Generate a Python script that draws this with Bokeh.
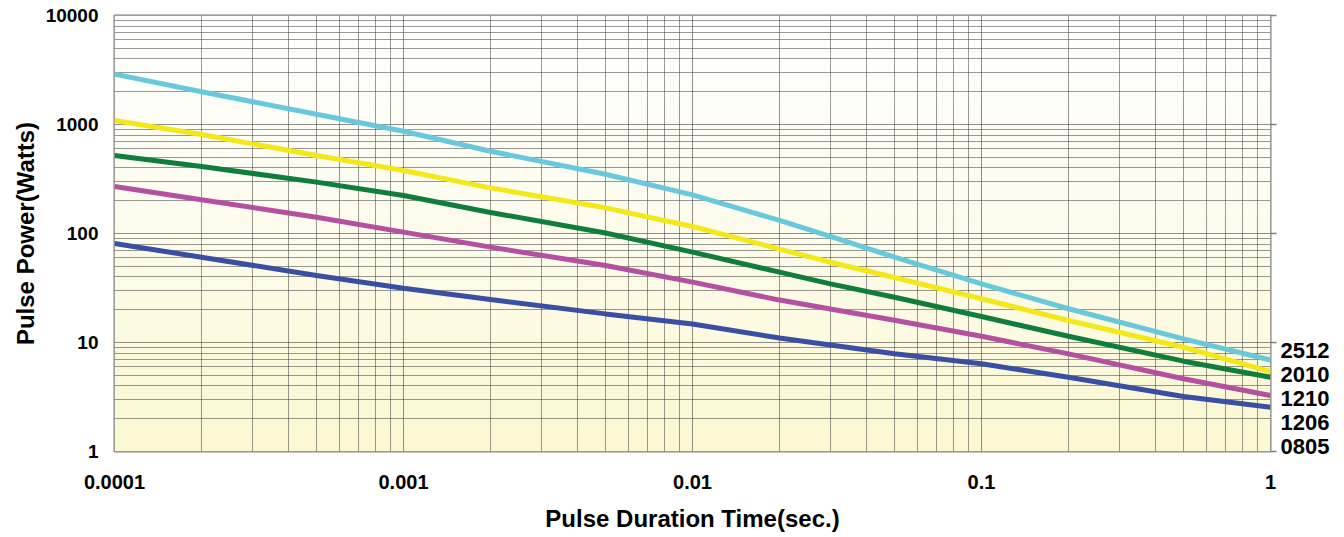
import numpy as np
from bokeh.plotting import figure
from bokeh.models import FixedTicker, LogAxis
from bokeh.embed import file_html
from bokeh.resources import INLINE

# ---- data ----
duration = [1e-4, 2e-4, 5e-4, 1e-3, 2e-3, 5e-3, 1e-2, 2e-2, 3e-2, 5e-2, 0.1, 0.2, 0.5, 1.0]
p2512 = [2900, 2000, 1240, 868, 569, 350, 226, 132, 94, 60.6, 34.5, 20.4, 10.8, 6.9]
p2010 = [1090, 809, 520, 378, 262, 172, 116, 72, 54.5, 39.5, 25.2, 15.9, 9.05, 5.4]
p1210 = [520, 412, 296, 223, 156, 101, 67.4, 44.2, 34.5, 26, 17.3, 11.4, 6.74, 4.8]
p1206 = [270, 204, 141, 103, 75, 50.9, 35.8, 24.5, 20.3, 16, 11.4, 7.87, 4.65, 3.26]
p0805 = [81, 60.6, 41.2, 31.5, 24.8, 18.3, 14.8, 11.0, 9.5, 7.9, 6.38, 4.8, 3.2, 2.55]

series_names = ["2512", "2010", "1210", "1206", "0805"]
series_values = [p2512, p2010, p1210, p1206, p0805]
series_colors = ["#68C8DC", "#F3E91A", "#0F7E3B", "#B54F9F", "#3A4EA3"]

x_ticks = [0.0001, 0.001, 0.01, 0.1, 1]
x_tick_labels = ["0.0001", "0.001", "0.01", "0.1", "1"]
y_ticks = [1, 10, 100, 1000, 10000]
y_tick_labels = ["1", "10", "100", "1000", "10000"]

FONT = "Liberation Sans"

W, H = 1340, 537
FL, FR, FT, FB = 114, 1270, 15, 451   # frame edges in pixels
frame_h = FB - FT

x_minor = [k * t for t in x_ticks[:-1] for k in range(2, 10)]
y_minor = [k * t for t in y_ticks[:-1] for k in range(2, 10)]

p = figure(width=W, height=H, x_axis_type="log", y_axis_type="log",
           x_range=(1e-4, 1), y_range=(1, 10000),
           output_backend="svg", toolbar_location=None,
           min_border_left=FL, min_border_right=W - FR,
           min_border_top=FT, min_border_bottom=H - FB)
p.background_fill_color = None
p.border_fill_color = "white"
p.outline_line_color = "#7f7f7f"
p.outline_line_width = 2

# background gradient (white top -> pale yellow bottom)
n = 256
t = np.linspace(0, 1, n)  # row 0 at bottom
top = np.array([255, 255, 255])
bot = np.array([251, 248, 210])
frac = (1 - t) ** 1.2
cols = (top[None, :] * (1 - frac[:, None]) + bot[None, :] * frac[:, None]).astype(np.uint32)
img = np.empty((n, 1), dtype=np.uint32)
view = img.view(dtype=np.uint8).reshape((n, 1, 4))
view[:, 0, 0] = cols[:, 0]
view[:, 0, 1] = cols[:, 1]
view[:, 0, 2] = cols[:, 2]
view[:, 0, 3] = 255
p.image_rgba(image=[img], x=x_ticks[0], y=y_ticks[0],
             dw=x_ticks[-1] - x_ticks[0], dh=y_ticks[-1] - y_ticks[0], level="image")

# axes / ticks
p.xaxis.ticker = FixedTicker(ticks=x_ticks, minor_ticks=x_minor)
p.yaxis.ticker = FixedTicker(ticks=y_ticks, minor_ticks=y_minor)
p.xaxis.major_label_overrides = {v: s for v, s in zip(x_ticks, x_tick_labels)}
p.yaxis.major_label_overrides = {v: s for v, s in zip(y_ticks, y_tick_labels)}

for ax in (p.xaxis[0], p.yaxis[0]):
    ax.axis_line_color = None
    ax.major_tick_line_color = None
    ax.minor_tick_line_color = None
    ax.major_tick_out = 0
    ax.major_tick_in = 0
    ax.minor_tick_out = 0
    ax.minor_tick_in = 0
    ax.major_label_text_font = FONT
    ax.major_label_text_font_style = "bold"
    ax.major_label_text_font_size = "19px"
    ax.major_label_text_color = "black"
    ax.axis_label_text_font = FONT
    ax.axis_label_text_font_style = "bold"
    ax.axis_label_text_font_size = "24px"
    ax.axis_label_text_color = "black"

p.xaxis.major_label_text_font_size = "20px"
p.xaxis.axis_label = "Pulse Duration Time(sec.)"
p.yaxis.axis_label = "Pulse Power(Watts)"
p.xaxis.major_label_standoff = 23
p.xaxis.axis_label_standoff = 13
p.yaxis.major_label_standoff = 16
p.yaxis.axis_label_standoff = 4

# right axis: decade tick marks (as minor ticks) + stacked size labels
decade_px = frame_h / 4.0
label_gap = 24
label_pos = [10 ** ((5 + k * label_gap) / decade_px) for k in range(len(series_names))]
label_names = list(reversed(series_names))  # bottom -> top
rax = LogAxis(ticker=FixedTicker(ticks=label_pos, minor_ticks=y_ticks))
rax.axis_line_color = None
rax.major_tick_line_color = None
rax.major_tick_out = 0
rax.major_tick_in = 0
rax.minor_tick_line_color = "#7f7f7f"
rax.minor_tick_line_width = 1.5
rax.minor_tick_out = 6
rax.minor_tick_in = 0
rax.major_label_standoff = 4
rax.major_label_overrides = {v: s for v, s in zip(label_pos, label_names)}
rax.major_label_text_font = FONT
rax.major_label_text_font_style = "bold"
rax.major_label_text_font_size = "22px"
rax.major_label_text_color = "black"
p.add_layout(rax, "right")

# grid
for g in (p.xgrid[0], p.ygrid[0]):
    g.grid_line_color = "#333333"
    g.grid_line_alpha = 0.55
    g.grid_line_width = 1
    g.minor_grid_line_color = "#333333"
    g.minor_grid_line_alpha = 0.5
    g.minor_grid_line_width = 1

# curves
for vals, col in zip(series_values, series_colors):
    p.line(duration, vals, line_color=col, line_width=5)

open("out.html", "w").write(file_html(p, INLINE))
